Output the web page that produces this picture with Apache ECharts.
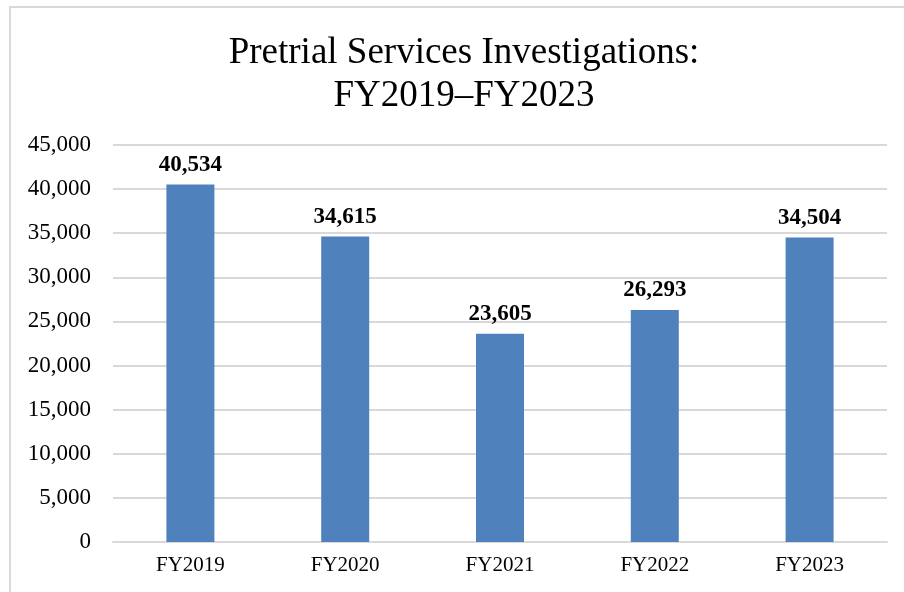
<!DOCTYPE html>
<html>
<head>
<meta charset="utf-8">
<script src="https://cdn.jsdelivr.net/npm/echarts@6/dist/echarts.min.js"></script>
<style>
  html, body { margin: 0; padding: 0; background: #fff; }
  #frame { position: absolute; left: 9px; top: 6px; width: 910px; height: 600px; border: 2px solid #d9d9d9; box-sizing: border-box; }
  #chart { position: absolute; left: 0; top: 0; width: 904px; height: 592px; }
</style>
</head>
<body>
<div id="frame"></div>
<div id="chart"></div>
<script>
var categories = ['FY2019', 'FY2020', 'FY2021', 'FY2022', 'FY2023'];
var investigations = [40534, 34615, 23605, 26293, 34504];
var yMax = 45000;
var yStep = 5000;

var chart = echarts.init(document.getElementById('chart'));
var serif = '"Liberation Serif", "Times New Roman", serif';

chart.setOption({
  animation: false,
  title: {
    text: 'Pretrial Services Investigations:\nFY2019\u2013FY2023',
    left: 459,
    textAlign: 'center',
    top: 27,
    textStyle: {
      fontFamily: serif,
      fontSize: 37,
      fontWeight: 'normal',
      color: '#000',
      lineHeight: 43
    }
  },
  grid: { left: 113, right: 17, top: 145, bottom: 50 },
  xAxis: {
    type: 'category',
    data: categories,
    axisLine: { lineStyle: { color: '#d9d9d9', width: 2 } },
    axisTick: { show: false },
    axisLabel: { fontFamily: serif, fontSize: 21, color: '#000', margin: 13 }
  },
  yAxis: {
    type: 'value',
    min: 0,
    max: yMax,
    interval: yStep,
    axisLine: { show: false },
    axisTick: { show: false },
    splitLine: { lineStyle: { color: '#d9d9d9', width: 2 } },
    axisLabel: {
      fontFamily: serif, fontSize: 23, color: '#000', margin: 22,
      formatter: function (v) { return v.toLocaleString('en-US'); }
    }
  },
  series: [{
    type: 'bar',
    data: investigations,
    barWidth: 48,
    itemStyle: { color: '#4f81bd' },
    label: {
      show: true,
      position: 'top',
      distance: 8,
      fontFamily: serif,
      fontSize: 23,
      fontWeight: 'bold',
      color: '#000',
      formatter: function (p) { return p.value.toLocaleString('en-US'); }
    }
  }]
});
</script>
</body>
</html>
